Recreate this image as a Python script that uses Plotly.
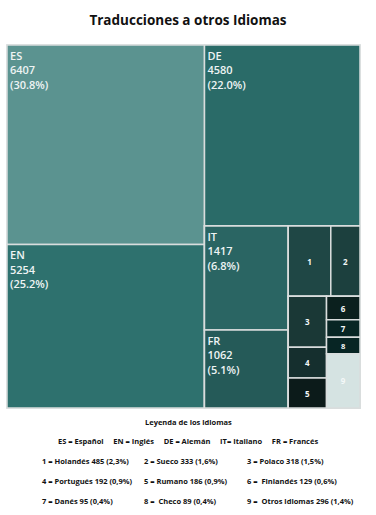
import plotly.graph_objects as go

# ---- data ----
codes = ["ES", "EN", "DE", "IT", "FR", "1", "2", "3", "4", "5", "6", "7", "8", "9"]
names = ["Español", "Inglés", "Alemán", "Italiano", "Francés",
         "Holandés", "Sueco", "Polaco", "Portugués", "Rumano",
         "Finlandés", "Danés", "Checo", "Otros idiomas"]
values = [6407, 5254, 4580, 1417, 1062, 485, 333, 318, 192, 186, 129, 95, 89, 296]
pcts = ["30.8", "25.2", "22.0", "6.8", "5.1", "2,3", "1,6", "1,5", "0,9", "0,9", "0,6", "0,4", "0,4", "1,4"]
leaf_parent = ["L", "L", "R", "ITFR", "ITFR", "R12", "R12", "C345", "C345", "C345",
               "C6789", "C6789", "C6789", "C6789"]
colors = ["#5b9390", "#2e716e", "#2a6b68", "#2a6563", "#255a58",
          "#1f4745", "#1c403e", "#1a3836", "#152f2e", "#0c1b1a",
          "#0b201e", "#072524", "#072524", "#d5e3e2"]

# grouping nodes (only used to arrange the tiles)
group_ids = ["L", "R", "B", "ITFR", "S", "R12", "RST", "C345", "C6789"]
group_par = ["", "", "R", "B", "B", "S", "S", "RST", "RST"]
# order in which nodes are given (children order inside each group)
node_order = ["L", "ES", "EN", "R", "DE", "B", "ITFR", "IT", "FR", "S", "R12", "1", "2",
              "RST", "C345", "3", "4", "5", "C6789", "6", "7", "8", "9"]

big = {"ES", "EN", "DE", "IT", "FR"}
info = {}
for g, p in zip(group_ids, group_par):
    info[g] = dict(parent=p, value=0, tb="", ts="", col="#1f4745")
for c, par, v, p, col in zip(codes, leaf_parent, values, pcts, colors):
    info[c] = dict(parent=par, value=v,
                   tb=f"{c}<br>{v}<br>({p}%)" if c in big else "",
                   ts="" if c in big else f"<b>{c}</b>", col=col)

ids = node_order
parents = [info[n]["parent"] for n in ids]
vals = [info[n]["value"] for n in ids]
text_big = [info[n]["tb"] for n in ids]
text_small = [info[n]["ts"] for n in ids]
cols = [info[n]["col"] for n in ids]

dom = dict(x=[7 / 376, 360 / 376], y=[(515 - 408) / 515, (515 - 45) / 515])

fig = go.Figure()
fig.add_trace(go.Treemap(
    ids=ids, labels=ids, parents=parents, values=vals, branchvalues="remainder",
    text=text_big, textinfo="text", textposition="top left",
    marker=dict(colors=cols, line=dict(color="#d9dddd", width=1.5),
                pad=dict(t=0, l=0, r=0, b=0)),
    tiling=dict(packing="slice-dice", pad=0),
    pathbar=dict(visible=False),
    textfont=dict(family="Open Sans", size=11, color="#eef4f4", weight=600),
    domain=dom, sort=False, hoverinfo="skip",
))
fig.add_trace(go.Treemap(
    ids=ids, labels=ids, parents=parents, values=vals, branchvalues="remainder",
    text=text_small, textinfo="text", textposition="middle center",
    marker=dict(colors=["rgba(0,0,0,0)"] * len(ids), line=dict(width=0),
                pad=dict(t=0, l=0, r=0, b=0)),
    tiling=dict(packing="slice-dice", pad=0),
    pathbar=dict(visible=False),
    textfont=dict(family="Open Sans", size=8, color="#f4f8f8"),
    domain=dom, sort=False, hoverinfo="skip",
))

# ---- legend text built from the data ----
NB = "\u00a0"
ann = []
ann.append(dict(text="<b>Leyenda de los idiomas</b>", x=0.5, y=422, xanchor="center"))
main_line = (NB * 5).join(
    f"<b>{c}{' ' if c != 'IT' else ''}= {n}</b>" for c, n in zip(codes[:5], names[:5]))
ann.append(dict(text=main_line, x=0.5, y=441, xanchor="center"))
col_x = [40 / 376, 142 / 376, 245 / 376]
row_y = [461, 481, 501]
for i in range(9):
    c, n, v, p = codes[5 + i], names[5 + i], values[5 + i], pcts[5 + i]
    sep = " =" + NB + " " if c in ("6", "8", "9") else " = "
    ann.append(dict(text=f"<b>{c}{sep}{n} {v} ({p}%)</b>",
                    x=col_x[i % 3], y=row_y[i // 3], xanchor="left"))
annotations = []
for a in ann:
    annotations.append(dict(
        text=a["text"], x=a["x"], y=1 - a["y"] / 515, xref="paper", yref="paper",
        xanchor=a["xanchor"], yanchor="middle", showarrow=False,
        font=dict(family="Open Sans", size=7.5, color="#111111")))

fig.update_layout(
    width=376, height=515,
    margin=dict(l=0, r=0, t=0, b=0),
    paper_bgcolor="white",
    title=dict(text="<b>Traducciones a otros Idiomas</b>", x=0.5, xanchor="center",
               y=1 - 20 / 515, yanchor="middle",
               font=dict(family="Open Sans", size=13.5, color="#111111")),
    annotations=annotations,
    showlegend=False,
)
fig.write_html("out.html")
